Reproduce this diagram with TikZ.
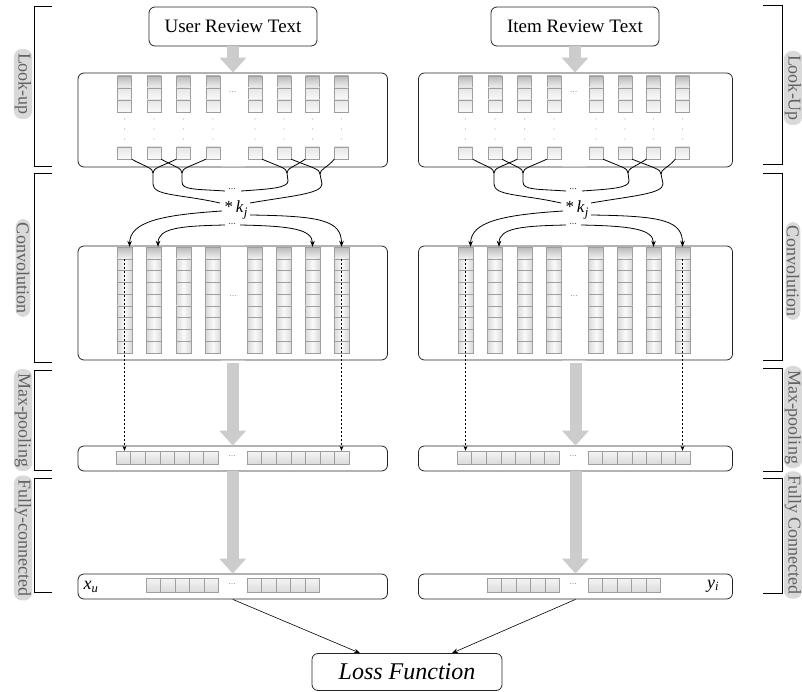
\documentclass[tikz,border=0pt]{standalone}
\usepackage{fontspec}
\setmainfont{Liberation Serif}
\usetikzlibrary{arrows.meta}
\definecolor{cellborder}{gray}{0.62}
\definecolor{arrowgray}{gray}{0.80}
\definecolor{pillgray}{gray}{0.85}
\definecolor{labeltext}{gray}{0.38}
\begin{document}
\begin{tikzpicture}[x=1pt,y=-1pt,
  frame/.style={draw=black!85, line width=0.8pt, rounded corners=6pt, inner sep=0pt},
  titlebox/.style={frame, font=\fontsize{19}{22}\selectfont},
  lcell/.style={draw=cellborder, line width=0.4pt, minimum width=14pt, minimum height=12pt, inner sep=0pt, top color=gray!20, bottom color=gray!4},
  lcelltop/.style={lcell, top color=gray!55, bottom color=gray!10},
  ccell/.style={draw=cellborder, line width=0.4pt, minimum width=15pt, minimum height=11.78pt, inner sep=0pt, left color=gray!30, right color=gray!30, middle color=gray!4},
  ccelltop/.style={ccell, top color=gray!55, bottom color=gray!10},
  mcell/.style={draw=cellborder, line width=0.4pt, minimum width=14.6pt, minimum height=13pt, inner sep=0pt, top color=gray!8, bottom color=gray!28},
  fcell/.style={mcell, minimum width=14.5pt, minimum height=14pt},
  dotsl/.style={text=gray!75, font=\fontsize{10}{10}\selectfont, inner sep=0pt},
  wire/.style={draw=black, line width=0.8pt},
  warrow/.style={wire, -{Stealth[length=6pt,width=4.5pt]}},
  dasharrow/.style={draw=black, line width=0.7pt, dash pattern=on 2.5pt off 1.5pt, -{Stealth[length=5pt,width=4pt]}},
  bigarrow/.style={draw=arrowgray, line width=12pt, -{Triangle[length=15pt,width=26pt]}},
  bracket/.style={draw=black, line width=0.8pt},
  pill/.style={fill=pillgray, text=labeltext, rounded corners=8pt, rotate=-90, font=\fontsize{18}{20}\selectfont, inner xsep=4pt, inner ysep=1pt},
  sublab/.style={inner sep=0pt, font=\fontsize{18}{18}\selectfont},
]
\useasboundingbox (0,0) rectangle (802,692);

% side brackets
\draw[bracket] (52,6) -- (34,6) -- (34,166) -- (52,166);
\draw[bracket] (52,173) -- (34,173) -- (34,362) -- (52,362);
\draw[bracket] (52,370) -- (34,370) -- (34,470) -- (52,470);
\draw[bracket] (52,478) -- (34,478) -- (34,592) -- (52,592);
\draw[bracket] (763,5) -- (782,5) -- (782,164) -- (763,164);
\draw[bracket] (763,173) -- (782,173) -- (782,360) -- (763,360);
\draw[bracket] (763,368) -- (782,368) -- (782,471) -- (763,471);
\draw[bracket] (763,478) -- (782,478) -- (782,593) -- (763,593);

% side labels
\node[pill] (labL1) at (23,84) {Look-up};
\node[pill] (labL2) at (23,268) {Convolution};
\node[pill] (labL3) at (23,420) {Max-pooling};
\node[pill] (labL4) at (23,538) {Fully-connected};
\node[pill] (labR1) at (793,88) {Look-Up};
\node[pill] (labR2) at (793,271) {Convolution};
\node[pill] (labR3) at (793,417) {Max-pooling};
\node[pill] (labR4) at (793,535) {Fully Connected};

% title boxes
\node[titlebox, minimum width=168pt, minimum height=39pt] (L-text) at (233,26.5) {User Review Text};
\node[titlebox, minimum width=168pt, minimum height=39pt] (R-text) at (575,26.5) {Item Review Text};

\foreach \s/\dx/\bc/\bw in {L/0/232.75/309.5, R/341/575.5/314} {
  \node[frame, minimum width=\bw pt, minimum height=94pt] (\s-look) at (\bc,120) {};
  \node[frame, minimum width=\bw pt, minimum height=114pt] (\s-conv) at (\bc,303) {};
  \node[frame, minimum width=\bw pt, minimum height=25pt] (\s-pool) at (\bc,458.5) {};
  \node[frame, minimum width=\bw pt, minimum height=25pt] (\s-fc) at (\bc,586.5) {};
  \begin{scope}[shift={(\dx,0)}]
    \draw[arrowgray, line width=1pt] (221,167) -- (245,167);
    \draw[arrowgray, line width=1pt] (221,246) -- (245,246);
    \draw[arrowgray, line width=1pt] (221,360) -- (245,360);
    \foreach \i/\x in {1/124.5,2/154,3/183.5,4/213,5/255,6/284,7/312.5,8/341.5} {
      \node[lcelltop] (\s-t\i-1) at (\x,82) {};
      \node[lcell] (\s-t\i-2) at (\x,94) {};
      \node[lcell] (\s-t\i-3) at (\x,106) {};
      \fill[gray!65] (\x,119) circle (0.6) (\x,129) circle (0.6) (\x,139) circle (0.6);
      \node[lcell] (\s-b\i) at (\x,153) {};
      \node[ccelltop] (\s-c\i-1) at (\x,252.9) {};
      \foreach \k in {2,...,9}
        \node[ccell] (\s-c\i-\k) at (\x,{247+11.78*(\k-0.5)}) {};
    }
    \foreach \k in {1,...,7}
      \node[mcell] (\s-m\k) at ({116+14.6*(\k-0.5)},457.5) {};
    \foreach \k in {8,...,14}
      \node[mcell] (\s-m\k) at ({247+14.6*(\k-7.5)},457.5) {};
    \foreach \k in {1,...,5}
      \node[fcell] (\s-f\k) at ({146+14.5*(\k-0.5)},585) {};
    \foreach \k in {6,...,10}
      \node[fcell] (\s-f\k) at ({247+14.5*(\k-5.5)},585) {};
    \node[dotsl] (\s-d1) at (232.5,92) {...};
    \node[dotsl] (\s-d2) at (233,296) {...};
    \node[dotsl] (\s-d3) at (232,456) {...};
    \node[dotsl] (\s-d4) at (232,584) {...};

    % kernel label
    \node[inner sep=0pt, font=\fontsize{17}{17}\selectfont] (\s-kj) at (236,210) {*\,\textit{k}\raisebox{-0.55ex}{\fontsize{13}{13}\selectfont\textit{j}}};
    \node[dotsl, text=black!75] (\s-ud) at (232,189) {...};
    \node[dotsl, text=black!75] (\s-ld) at (232,224) {...};

    \coordinate (\s-A) at (153,173);
    \coordinate (\s-B) at (182,173);
    \coordinate (\s-C) at (287,173);
    \coordinate (\s-D) at (320,174);
    \coordinate (\s-kA) at (220,203);
    \coordinate (\s-kB) at (225,191);
    \coordinate (\s-kC) at (241,191);
    \coordinate (\s-kD) at (250,203);
    \coordinate (\s-k1) at (222,211);
    \coordinate (\s-k2) at (225,225);
    \coordinate (\s-k7) at (240,225);
    \coordinate (\s-k8) at (250,215);

    % windows
    \draw[wire] (\s-b1.south east) .. controls (146,167) and (153,168) .. (\s-A);
    \draw[wire] (\s-b3.south west) .. controls (160,167) and (153,168) .. (\s-A);
    \draw[wire] (\s-A) -- (153,184) .. controls (153,196) and (180,194) .. (\s-kA);
    \draw[wire] (\s-b2.south east) .. controls (175,167) and (182,168) .. (\s-B);
    \draw[wire] (\s-b4.south west) .. controls (189,167) and (182,168) .. (\s-B);
    \draw[wire] (\s-B) -- (182,182) .. controls (182,190) and (195,189) .. (\s-kB);
    \draw[wire] (\s-b5.south east) .. controls (280,167) and (287,168) .. (\s-C);
    \draw[wire] (\s-b7.south west) .. controls (294,167) and (287,168) .. (\s-C);
    \draw[wire] (\s-C) -- (288,181) .. controls (288,188) and (270,189) .. (\s-kC);
    \draw[wire] (\s-b6.south east) .. controls (313,168) and (320,169) .. (\s-D);
    \draw[wire] (\s-b8.south west) .. controls (327,168) and (320,169) .. (\s-D);
    \draw[wire] (\s-D) -- (322,184) .. controls (322,194) and (290,196) .. (\s-kD);

    % kernel outputs
    \draw[warrow] (\s-k1) .. controls (160,215) and (130,222) .. ([xshift=5pt]\s-c1-1.north);
    \draw[warrow] (\s-k2) .. controls (180,226) and (158,228) .. ([xshift=4pt]\s-c2-1.north);
    \draw[warrow] (\s-k7) .. controls (290,226) and (312.5,229) .. (\s-c7-1.north);
    \draw[warrow] (\s-k8) .. controls (320,216) and (341.5,220) .. (\s-c8-1.north);

    % max pooling
    \draw[dasharrow] (\s-c1-2.north) -- (\s-c1-2.north |- \s-m1.north);
    \draw[dasharrow] (\s-c8-2.north) -- (\s-c8-2.north |- \s-m14.north);
  \end{scope}
  \draw[bigarrow] (\s-text.south) -- (\s-text.south |- \s-look.north);
  \draw[bigarrow, shorten <=3pt] (\s-conv.south) -- (\s-pool.north);
  \draw[bigarrow] (\s-pool.south) -- (\s-fc.north);
}

\node[sublab] (xu) at (91,587) {\textit{x}\textsubscript{\textit{u}}};
\node[sublab] (yi) at (713,586) {\textit{y}\textsubscript{\textit{i}}};

\node[frame, minimum width=190pt, minimum height=37pt, font=\fontsize{24}{28}\selectfont\itshape] (loss) at (407,672) {Loss Function};
\draw[warrow, line width=0.6pt] (L-fc.south) -- ([xshift=-47pt]loss.north);
\draw[warrow, line width=0.6pt] (R-fc.south) -- ([xshift=45pt]loss.north);
\end{tikzpicture}
\end{document}
